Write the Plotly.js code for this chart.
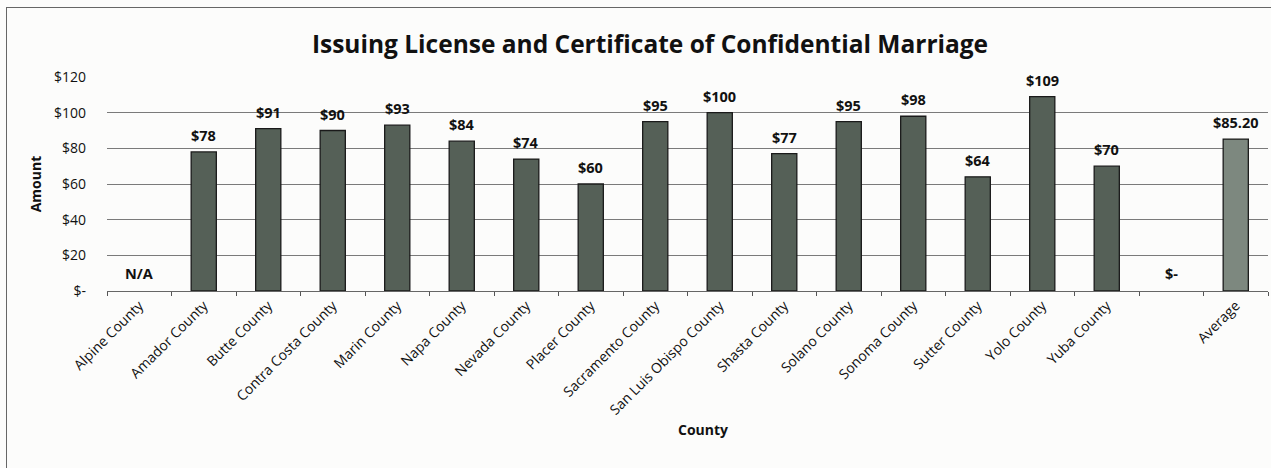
<!DOCTYPE html>
<html>
<head>
<meta charset="utf-8">
<script src="https://cdn.plot.ly/plotly-3.0.1.min.js"></script>
<style>
html,body{margin:0;padding:0;background:#fcfcfb;}
#wrap{position:relative;width:1271px;height:468px;overflow:hidden;}
#chart{width:1271px;height:468px;}
#frame{position:absolute;left:6px;top:7px;width:1300px;height:500px;border:1px solid #666;pointer-events:none;}
</style>
</head>
<body>
<div id="wrap"><div id="chart"></div><div id="frame"></div></div>
<script>
const categories = ["Alpine County","Amador County","Butte County","Contra Costa County","Marin County","Napa County","Nevada County","Placer County","Sacramento County","San Luis Obispo County","Shasta County","Solano County","Sonoma County","Sutter County","Yolo County","Yuba County"," ","Average"];
const amounts = [0,78,91,90,93,84,74,60,95,100,77,95,98,64,109,70,0,85.2];
const valueLabels = ["N/A","$78","$91","$90","$93","$84","$74","$60","$95","$100","$77","$95","$98","$64","$109","$70","$-","$85.20"];
const yTickVals = [0,20,40,60,80,100,120];
const yTickText = ["$-","$20","$40","$60","$80","$100","$120"];

const barColors = categories.map(c => c === "Average" ? "#7d887f" : "#556057");
const lineWidths = amounts.map(v => v === 0 ? 0 : 1.3);

const annotations = categories.map((c, i) => ({
  x: c, y: amounts[i], xref: "x", yref: "y",
  text: valueLabels[i], showarrow: false,
  yanchor: "bottom", yshift: amounts[i] === 0 ? 6 : 5,
  font: {family: "Open Sans, sans-serif", size: 14.5, color: "#111", weight: 700}
}));
annotations.push({
  x: (703-107)/(1268-107), y: -(441-291)/(291-77), xref: "paper", yref: "paper", text: "County", showarrow: false,
  font: {family: "Open Sans, sans-serif", size: 14, color: "#111", weight: 700}
});

const trace = {
  type: "bar", x: categories, y: amounts,
  marker: {color: barColors, line: {color: "#1a1a1a", width: lineWidths}},
  width: 0.39, hoverinfo: "skip"
};

const layout = {
  width: 1271, height: 468,
  paper_bgcolor: "rgba(0,0,0,0)", plot_bgcolor: "rgba(0,0,0,0)",
  margin: {l: 107, r: 3, t: 77, b: 177},
  title: {text: "<b>Issuing License and Certificate of Confidential Marriage</b>", x: 650/1271, xanchor: "center", y: 0.905, yanchor: "middle",
    font: {family: "Open Sans, sans-serif", size: 24.5, color: "#111"}},
  showlegend: false,
  xaxis: {
    type: "category", tickangle: -45, tickson: "boundaries", ticks: "outside", ticklen: 4, tickcolor: "#555",
    showline: true, linecolor: "#666", linewidth: 1,
    tickfont: {family: "Open Sans, sans-serif", size: 14, color: "#111"},
    showgrid: false
  },
  yaxis: {
    range: [0, 120], tickvals: yTickVals, ticktext: yTickText,
    showgrid: true, gridcolor: "#7a7a7a", gridwidth: 1, zeroline: false,
    ticks: "", ticklabelstandoff: 20,
    tickfont: {family: "Open Sans, sans-serif", size: 14, color: "#111"},
    title: {text: "<b>Amount</b>", standoff: 9, font: {family: "Open Sans, sans-serif", size: 14, color: "#111"}}
  },
  annotations: annotations
};

Plotly.newPlot("chart", [trace], layout, {displayModeBar: false, staticPlot: true});
</script>
</body>
</html>
